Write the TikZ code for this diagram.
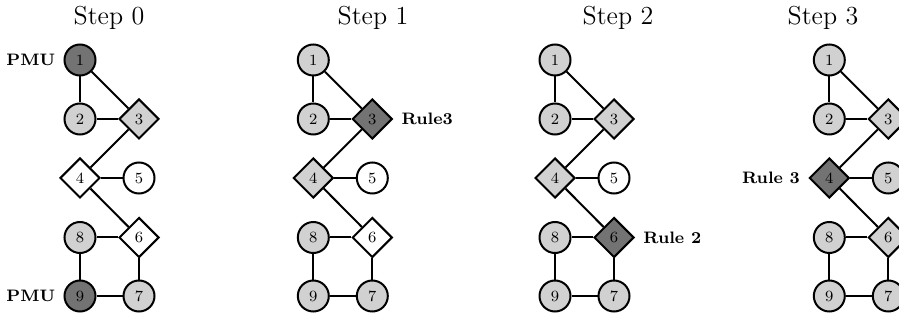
\documentclass[tikz,border=0pt]{standalone}
\usetikzlibrary{shapes.geometric}
\definecolor{darkfill}{gray}{0.45}
\definecolor{lightfill}{gray}{0.82}
\tikzset{
  bus/.style={circle, draw, line width=1pt, minimum size=15.5pt, inner sep=0pt,
    font=\fontsize{7.8}{9}\selectfont},
  zibus/.style={diamond, draw, line width=1pt, minimum size=20pt, inner sep=0pt,
    font=\fontsize{7.8}{9}\selectfont},
  dk/.style={fill=darkfill},
  lt/.style={fill=lightfill},
  wh/.style={fill=white},
  edge/.style={line width=1pt},
  tag/.style={inner sep=0pt, font=\fontsize{8.3}{10}\selectfont\bfseries},
  title/.style={inner sep=0pt, anchor=base, font=\fontsize{13}{15}\selectfont},
}
% one panel of the nine-bus graph; #1 = name prefix, fills come from styles f1..f9
\newcommand\graphpanel[1]{%
  \node[bus, f1]  (#1n1) at (0,60)    {1};
  \node[bus, f2]  (#1n2) at (0,119)   {2};
  \node[zibus, f3] (#1n3) at (59,119) {3};
  \node[zibus, f4] (#1n4) at (0,178)  {4};
  \node[bus, f5]  (#1n5) at (59,178)  {5};
  \node[bus, f8]  (#1n8) at (0,237.5) {8};
  \node[zibus, f6] (#1n6) at (59,237.5) {6};
  \node[bus, f9]  (#1n9) at (0,296)   {9};
  \node[bus, f7]  (#1n7) at (59,296)  {7};
  \draw[edge] (#1n1) -- (#1n2);
  \draw[edge] (#1n1) -- (#1n3);
  \draw[edge] (#1n2) -- (#1n3);
  \draw[edge] (#1n3) -- (#1n4);
  \draw[edge] (#1n4) -- (#1n5);
  \draw[edge] (#1n4) -- (#1n6);
  \draw[edge] (#1n8) -- (#1n6);
  \draw[edge] (#1n8) -- (#1n9);
  \draw[edge] (#1n9) -- (#1n7);
  \draw[edge] (#1n6) -- (#1n7);
}
\begin{document}
\begin{tikzpicture}[x=0.5pt, y=-0.5pt]
\useasboundingbox (0,0) rectangle (899,320);

% Step 0
\node[title] (t0) at (109,25) {Step 0};
\begin{scope}[shift={(80,0)},
  f1/.style=dk, f2/.style=lt, f3/.style=lt, f4/.style=wh, f5/.style=wh,
  f6/.style=wh, f7/.style=lt, f8/.style=lt, f9/.style=dk]
  \graphpanel{a}
\end{scope}
\node[tag, anchor=east] (apmu1) at ([xshift=-4pt]an1.west) {PMU};
\node[tag, anchor=east] (apmu9) at ([xshift=-4pt]an9.west) {PMU};

% Step 1
\node[title] (t1) at (373,25) {Step 1};
\begin{scope}[shift={(313.3,0)},
  f1/.style=lt, f2/.style=lt, f3/.style=dk, f4/.style=lt, f5/.style=wh,
  f6/.style=wh, f7/.style=lt, f8/.style=lt, f9/.style=lt]
  \graphpanel{b}
\end{scope}
\node[tag, anchor=west] (brule) at ([xshift=4pt]bn3.east) {Rule3};

% Step 2
\node[title] (t2) at (618,25) {Step 2};
\begin{scope}[shift={(555,0)},
  f1/.style=lt, f2/.style=lt, f3/.style=lt, f4/.style=lt, f5/.style=wh,
  f6/.style=dk, f7/.style=lt, f8/.style=lt, f9/.style=lt]
  \graphpanel{c}
\end{scope}
\node[tag, anchor=west] (crule) at ([xshift=4pt]cn6.east) {Rule 2};

% Step 3
\node[title] (t3) at (823,25) {Step 3};
\begin{scope}[shift={(829.3,0)},
  f1/.style=lt, f2/.style=lt, f3/.style=lt, f4/.style=dk, f5/.style=lt,
  f6/.style=lt, f7/.style=lt, f8/.style=lt, f9/.style=lt]
  \graphpanel{d}
\end{scope}
\node[tag, anchor=east] (drule) at ([xshift=-4pt]dn4.west) {Rule 3};
\end{tikzpicture}
\end{document}
